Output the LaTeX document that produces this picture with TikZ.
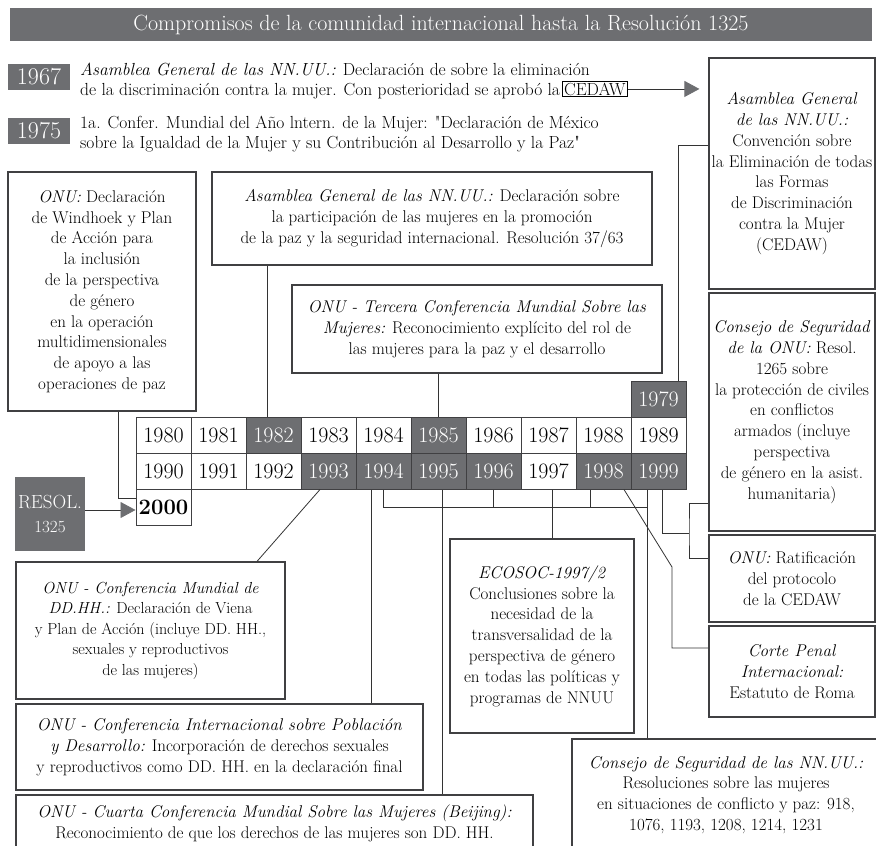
\documentclass[tikz,border=0pt]{standalone}
\usetikzlibrary{positioning, arrows.meta}

\definecolor{bandgray}{HTML}{6D6E71}
\definecolor{rulegray}{HTML}{404042}

\newcommand{\bodysize}{\fontsize{17}{20.8}\selectfont}
\newcommand{\leadsize}{\fontsize{17.5}{20}\selectfont}
\newcommand{\yearsize}{\fontsize{22}{26}\selectfont}
\newcommand{\titlesize}{\fontsize{22}{26}\selectfont}

\tikzset{
  infobox/.style={draw=rulegray, line width=1.2pt, fill=white, align=center, inner sep=0pt, font=\bodysize},
  yearbadge/.style={fill=bandgray, text=white, inner sep=0pt, minimum width=62pt, minimum height=26pt, font=\fontsize{24}{28}\selectfont},
  yearcell/.style={draw=rulegray, line width=1pt, minimum width=55pt, minimum height=36pt, inner sep=0pt, font=\yearsize},
  darkcell/.style={yearcell, fill=bandgray, text=white},
  textline/.style={anchor=base west, inner sep=0pt, font=\leadsize},
  link/.style={draw=black!80, line width=0.8pt},
  headarrow/.style={-{Triangle[length=15pt, width=16pt, color=bandgray]}},
}

\begin{document}
\begin{tikzpicture}[x=1pt, y=-1pt]
\useasboundingbox (0,0) rectangle (876,846);

% title
\node[fill=bandgray, text=white, minimum width=862pt, minimum height=33pt, inner sep=0pt, font=\titlesize] (title) at (441,24.5) {Compromisos de la comunidad internacional hasta la Resolución 1325};

% 1967 and 1975
\node[yearbadge] (b1967) at (39,77) {1967};
\node[textline] (t1967a) at (80,75) {\textit{Asamblea General de las NN.UU.:} Declaración de sobre la eliminación};
\node[textline] (t1967b) at (80,95) {de la discriminación contra la mujer. Con posterioridad se aprobó la};
\node[draw=black, line width=0.7pt, inner sep=1.5pt, font=\leadsize, base right=2pt of t1967b] (cedawtag) {CEDAW};

\node[yearbadge] (b1975) at (39,131) {1975};
\node[textline] (t1975a) at (80,128) {1a. Confer. Mundial del Año lntern. de la Mujer: \textquotedbl Declaración de México};
\node[textline] (t1975b) at (80,148) {sobre la Igualdad de la Mujer y su Contribución al Desarrollo y la Paz\textquotedbl};

% boxes above the grid
\node[infobox, minimum width=188pt, minimum height=239pt] (windhoek) at (102,291.5) {\textit{ONU:} Declaración\\de Windhoek y Plan\\de Acción para\\la inclusión\\de la perspectiva\\de género\\en la operación\\multidimensionales\\de apoyo a las\\operaciones de paz};
\node[infobox, minimum width=440pt, minimum height=93pt] (res3763) at (432,218.5) {\textit{Asamblea General de las NN.UU.:} Declaración sobre\\la participación de las mujeres en la promoción\\de la paz y la seguridad internacional. Resolución 37/63};
\node[infobox, minimum width=370pt, minimum height=88pt] (tercera) at (477,329) {\textit{ONU - Tercera Conferencia Mundial Sobre las}\\\textit{Mujeres:} Reconocimiento explícito del rol de\\las mujeres para la paz y el desarrollo};

% right column
\node[infobox, minimum width=166pt, minimum height=231pt] (cedaw) at (792,173.5) {\textit{Asamblea General}\\\textit{de las NN.UU.:}\\Convención sobre\\la Eliminación de todas\\las Formas\\de Discriminación\\contra la Mujer\\(CEDAW)};
\node[infobox, minimum width=166pt, minimum height=238pt] (res1265) at (792,412) {\textit{Consejo de Seguridad}\\\textit{de la ONU:} Resol.\\1265 sobre\\la protección de civiles\\en conflictos\\armados (incluye\\perspectiva\\de género en la asist.\\humanitaria)};
\node[infobox, minimum width=166pt, minimum height=87pt] (ratif) at (792,578.5) {\textit{ONU:} Ratificación\\del protocolo\\de la CEDAW};
\node[infobox, minimum width=166pt, minimum height=91pt] (corte) at (792,671.5) {\textit{Corte Penal}\\\textit{Internacional:}\\Estatuto de Roma};

% the years
\foreach \yr in {1980,1981,1983,1984,1986,1987,1988,1989,1990,1991,1992,1997}
  \node[yearcell] (y\yr) at ({163.5+55*mod(\yr,10)}, {435+36*floor((\yr-1979.5)/10)}) {\yr};
\foreach \yr in {1979,1982,1985,1993,1994,1995,1996,1998,1999}
  \node[darkcell] (y\yr) at ({163.5+55*mod(\yr,10)}, {435+36*floor((\yr-1979.5)/10)}) {\yr};
\node[yearcell, font=\yearsize\bfseries] (y2000) at (163.5,507) {2000};

\node[fill=bandgray, text=white, minimum width=70pt, minimum height=74pt, inner sep=0pt, align=center, font=\fontsize{19}{24}\selectfont] (resol) at (50,514) {RESOL.\\{\fontsize{17}{20}\selectfont 1325}};

% boxes below the grid
\node[infobox, minimum width=269pt, minimum height=137pt, font=\fontsize{16}{20.5}\selectfont] (ddhh) at (150.5,630.5) {\textit{ONU - Conferencia Mundial de}\\\textit{DD.HH.:} Declaración de Viena\\y Plan de Acción (incluye DD. HH.,\\sexuales y reproductivos\\de las mujeres)};
\node[infobox, minimum width=407pt, minimum height=86pt] (poblacion) at (219.5,747) {\textit{ONU - Conferencia Internacional sobre Población}\\\textit{y Desarrollo:} Incorporación de derechos sexuales\\y reproductivos como DD. HH. en la declaración final};
\node[infobox, minimum width=517pt, minimum height=57pt] (beijing) at (274.5,823.5) {\textit{ONU - Cuarta Conferencia Mundial Sobre las Mujeres (Beijing):}\\Reconocimiento de que los derechos de las mujeres son DD. HH.};
\node[infobox, minimum width=184pt, minimum height=194pt] (ecosoc) at (542,636) {\textit{ECOSOC-1997/2}\\Conclusiones sobre la\\necesidad de la\\transversalidad de la\\perspectiva de género\\en todas las políticas y\\programas de NNUU};
\node[infobox, minimum width=308pt, minimum height=112pt] (consejo) at (726,795) {\textit{Consejo de Seguridad de las NN.UU.:}\\Resoluciones sobre las mujeres\\en situaciones de conflicto y paz: 918,\\1076, 1193, 1208, 1214, 1231};

% connectors
\coordinate (bus) at (647,507);
\coordinate (kink) at (672,567);
\coordinate (fork) at (689,533);

\draw[link, headarrow, shorten >=9pt] (cedawtag.east) -- (cedawtag.east -| cedaw.west);
\draw[link, headarrow] ([yshift=4pt]resol.east) -- ([yshift=4pt]resol.east -| y2000.west);
\draw[link] ([xshift=16pt]windhoek.south) |- ([yshift=9pt]y2000.west);
\draw[link] ([xshift=-6.5pt]y1982.north) -- ([xshift=-6.5pt]y1982.north |- res3763.south);
\draw[link] (y1985.north) -- (y1985.north |- tercera.south);
\draw[link] ([xshift=19.5pt]y1979.north) |- ([yshift=28.5pt]cedaw.west);

\draw[link] ([xshift=-8.5pt]y1993.south) -- ([xshift=106.5pt]ddhh.north);
\draw[link] ([xshift=-12.5pt]y1994.south) -- ([xshift=-12.5pt]y1994.south |- poblacion.north);
\draw[link] ([xshift=3.5pt]y1995.south) -- ([xshift=3.5pt]y1995.south |- beijing.north);
\draw[link] ([xshift=3.5pt]y1997.south) -- ([xshift=3.5pt]y1997.south |- ecosoc.north);

\draw[link] (y1994.south) |- (bus);
\draw[link] (y1996.south) -- (y1996.south |- bus);
\draw[link] ([xshift=-13.5pt]y1998.south) -- ([xshift=-13.5pt]y1998.south |- bus);
\draw[link] ([xshift=-11.5pt]y1999.south) -- ([xshift=-11.5pt]y1999.south |- consejo.north);

\draw[link] ([xshift=20.5pt]y1998.south) -- (kink) |- ([yshift=23.5pt]corte.west);
\draw[link] ([xshift=3.5pt]y1999.south) |- (fork);
\draw[link] ([yshift=-91pt]res1265.west) -| (fork) |- ([yshift=20.5pt]ratif.west);
\end{tikzpicture}
\end{document}
